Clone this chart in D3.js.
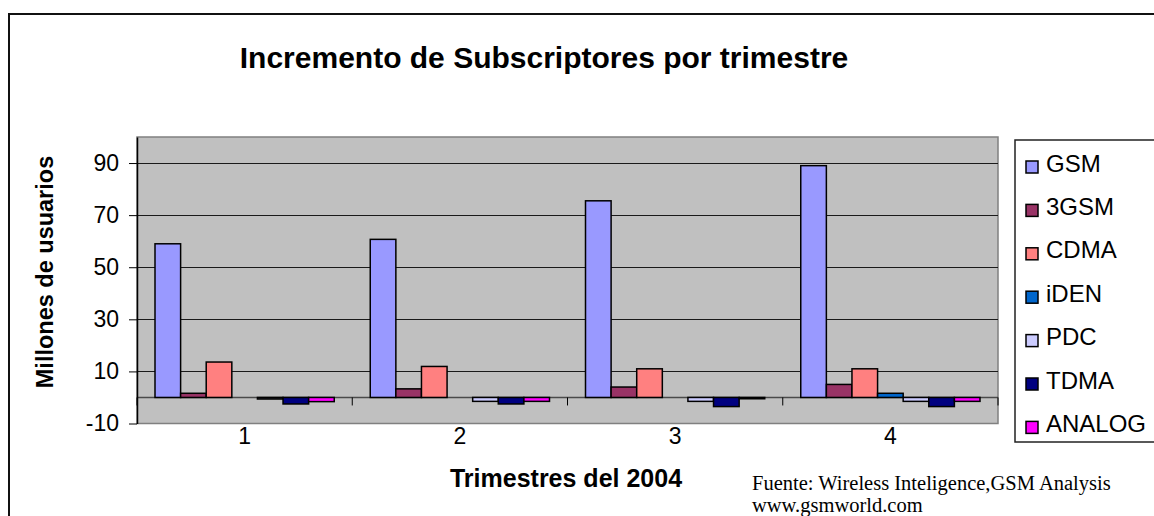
<!DOCTYPE html>
<html>
<head>
<meta charset="utf-8">
<script src="https://cdn.jsdelivr.net/npm/d3@7"></script>
<style>
    body { margin: 0; background: #fff; }
    svg text { font-family: 'Liberation Sans', Arial, Helvetica, sans-serif; fill: #000; }
</style>
</head>
<body>
<svg id="chart"></svg>
<script>
// quarters of 2004 (categories)
const quarters = ['1', '2', '3', '4'];
// technologies (series)
const technologies = ['GSM', '3GSM', 'CDMA', 'iDEN', 'PDC', 'TDMA', 'ANALOG'];
const techColors = ['#9999FF', '#993366', '#FF8080', '#0066CC', '#CCCCFF', '#000080', '#FF00FF'];

// subscriber increase, millions of users, per quarter
const gsmValues = [59.0, 60.7, 75.5, 89.0];
const gsm3Values = [1.6, 3.3, 4.0, 5.0];
const cdmaValues = [13.6, 11.9, 11.0, 11.0];
const idenValues = [0, 0, 0, 1.6];
const pdcValues = [-0.6, -1.5, -1.5, -1.5];
const tdmaValues = [-2.5, -2.5, -3.5, -3.5];
const analogValues = [-1.6, -1.5, -0.5, -1.5];

const yTicks = [-10, 10, 30, 50, 70, 90];
const yDomain = [-10, 100];

const titleText = 'Incremento de Subscriptores por trimestre';
const xTitleText = 'Trimestres del 2004';
const yTitleText = 'Millones de usuarios';
const sourceLines = ['Fuente: Wireless Inteligence,GSM Analysis', 'www.gsmworld.com'];

class GroupedBarChart {

    constructor(_config, _data) {
        this.config = {
            parentElement: _config.parentElement,
            containerWidth: _config.containerWidth || 1154,
            containerHeight: _config.containerHeight || 516,
            margin: {top: 137, right: 156, bottom: 92.5, left: 137}
        }
        this.data = _data;
        this.initVis();
    }

    initVis() {
        let vis = this;

        vis.width = vis.config.containerWidth - vis.config.margin.left - vis.config.margin.right;
        vis.height = vis.config.containerHeight - vis.config.margin.top - vis.config.margin.bottom;

        vis.xScale = d3.scaleBand()
            .domain(quarters)
            .range([0, vis.width]);

        vis.xInner = d3.scaleBand()
            .domain(technologies)
            .range([18, vis.xScale.bandwidth() - 18]);

        vis.yScale = d3.scaleLinear()
            .domain(yDomain)
            .range([vis.height, 0]);

        vis.colorScale = d3.scaleOrdinal()
            .domain(technologies)
            .range(techColors);

        vis.svg = d3.select(vis.config.parentElement)
            .attr('width', vis.config.containerWidth)
            .attr('height', vis.config.containerHeight);

        // outer frame of the chart
        vis.svg.append('rect')
            .attr('x', 9)
            .attr('y', 14)
            .attr('width', vis.config.containerWidth + 10)
            .attr('height', vis.config.containerHeight + 10)
            .attr('fill', '#fff')
            .attr('stroke', '#111')
            .attr('stroke-width', 2);

        vis.chart = vis.svg.append('g')
            .attr('transform', `translate(${vis.config.margin.left},${vis.config.margin.top})`);

        vis.updateVis();
    }

    updateVis() {
        let vis = this;

        // flat list of bars
        vis.bars = [];
        quarters.forEach((q, i) => {
            technologies.forEach((t, j) => {
                vis.bars.push({quarter: q, tech: t, value: vis.data[j][i]});
            });
        });

        vis.renderVis();
    }

    renderVis() {
        let vis = this;

        // plot area
        vis.chart.append('rect')
            .attr('width', vis.width)
            .attr('height', vis.height)
            .attr('fill', '#C0C0C0')
            .attr('stroke', '#808080')
            .attr('stroke-width', 1.5);

        // gridlines
        vis.chart.selectAll('.grid')
            .data(yTicks.filter(d => d > yDomain[0]))
            .join('line')
            .attr('class', 'grid')
            .attr('x1', 0)
            .attr('x2', vis.width)
            .attr('y1', d => Math.round(vis.yScale(d)) + 0.5)
            .attr('y2', d => Math.round(vis.yScale(d)) + 0.5)
            .attr('stroke', '#1a1a1a')
            .attr('stroke-width', 1);

        // category axis line at zero
        const y0 = vis.yScale(0);
        vis.chart.append('line')
            .attr('x1', 0)
            .attr('x2', vis.width)
            .attr('y1', y0)
            .attr('y2', y0)
            .attr('stroke', '#4a4a4a')
            .attr('stroke-width', 1.5);

        // bars
        vis.chart.selectAll('.bar')
            .data(vis.bars.filter(d => d.value !== 0))
            .join('rect')
            .attr('class', 'bar')
            .attr('x', d => vis.xScale(d.quarter) + vis.xInner(d.tech))
            .attr('width', vis.xInner.bandwidth())
            .attr('y', d => vis.yScale(Math.max(0, d.value)))
            .attr('height', d => Math.abs(vis.yScale(d.value) - y0))
            .attr('fill', d => vis.colorScale(d.tech))
            .attr('stroke', '#000')
            .attr('stroke-width', 1.5);

        // tick marks between categories, on the zero line
        vis.chart.selectAll('.cat-tick')
            .data(quarters.map(q => vis.xScale(q)).concat([vis.width]))
            .join('line')
            .attr('class', 'cat-tick')
            .attr('x1', d => d)
            .attr('x2', d => d)
            .attr('y1', y0)
            .attr('y2', y0 + 8)
            .attr('stroke', '#000')
            .attr('stroke-width', 1);

        // x labels
        vis.xAxisG = vis.chart.append('g')
            .attr('transform', `translate(0,${vis.height})`)
            .call(d3.axisBottom(vis.xScale).tickSize(0).tickPadding(4))
            .call(g => g.select('.domain').remove());
        vis.xAxisG.selectAll('text')
            .style('font-size', '23px');

        // y axis, plain hyphen for negatives
        vis.yAxisG = vis.chart.append('g')
            .call(d3.axisLeft(vis.yScale)
                .tickValues(yTicks)
                .tickFormat(d => String(d))
                .tickSize(8)
                .tickSizeOuter(0)
                .tickPadding(10))
            .call(g => g.select('.domain').attr('stroke', '#000').attr('stroke-width', 1.5));
        vis.yAxisG.selectAll('.tick line').attr('stroke', '#000');
        vis.yAxisG.selectAll('text')
            .style('font-size', '23px');

        // titles
        vis.svg.append('text')
            .attr('x', 544)
            .attr('y', 68)
            .style('text-anchor', 'middle')
            .style('font-size', '30px')
            .style('font-weight', 700)
            .text(titleText);

        vis.svg.append('text')
            .attr('x', 566)
            .attr('y', 487)
            .style('text-anchor', 'middle')
            .style('font-size', '25px')
            .style('font-weight', 700)
            .text(xTitleText);

        vis.svg.append('text')
            .attr('transform', 'translate(53,272) rotate(-90)')
            .style('text-anchor', 'middle')
            .style('font-size', '23.5px')
            .style('font-weight', 700)
            .text(yTitleText);

        // source note
        vis.svg.append('g')
            .selectAll('text')
            .data(sourceLines)
            .join('text')
            .attr('x', 752)
            .attr('y', (d, i) => 490 + i * 22)
            .style('font-family', "'Liberation Serif', 'Times New Roman', serif")
            .style('font-size', '20.5px')
            .text(d => d);

        // legend
        const legend = vis.svg.append('g')
            .attr('transform', 'translate(1015,140)');

        legend.append('rect')
            .attr('width', 160)
            .attr('height', 302)
            .attr('fill', '#fff')
            .attr('stroke', '#222')
            .attr('stroke-width', 1.5);

        const items = legend.selectAll('.legend-item')
            .data(technologies)
            .join('g')
            .attr('class', 'legend-item')
            .attr('transform', (d, i) => `translate(0,${23 + i * 43.4})`);

        items.append('rect')
            .attr('x', 11)
            .attr('y', -2)
            .attr('width', 12)
            .attr('height', 12)
            .attr('fill', d => vis.colorScale(d))
            .attr('stroke', '#000')
            .attr('stroke-width', 1.5);

        items.append('text')
            .attr('x', 31)
            .attr('y', 8.5)
            .style('font-size', '24px')
            .text(d => d);
    }
}

const chart = new GroupedBarChart({parentElement: '#chart'},
    [gsmValues, gsm3Values, cdmaValues, idenValues, pdcValues, tdmaValues, analogValues]);
</script>
</body>
</html>
